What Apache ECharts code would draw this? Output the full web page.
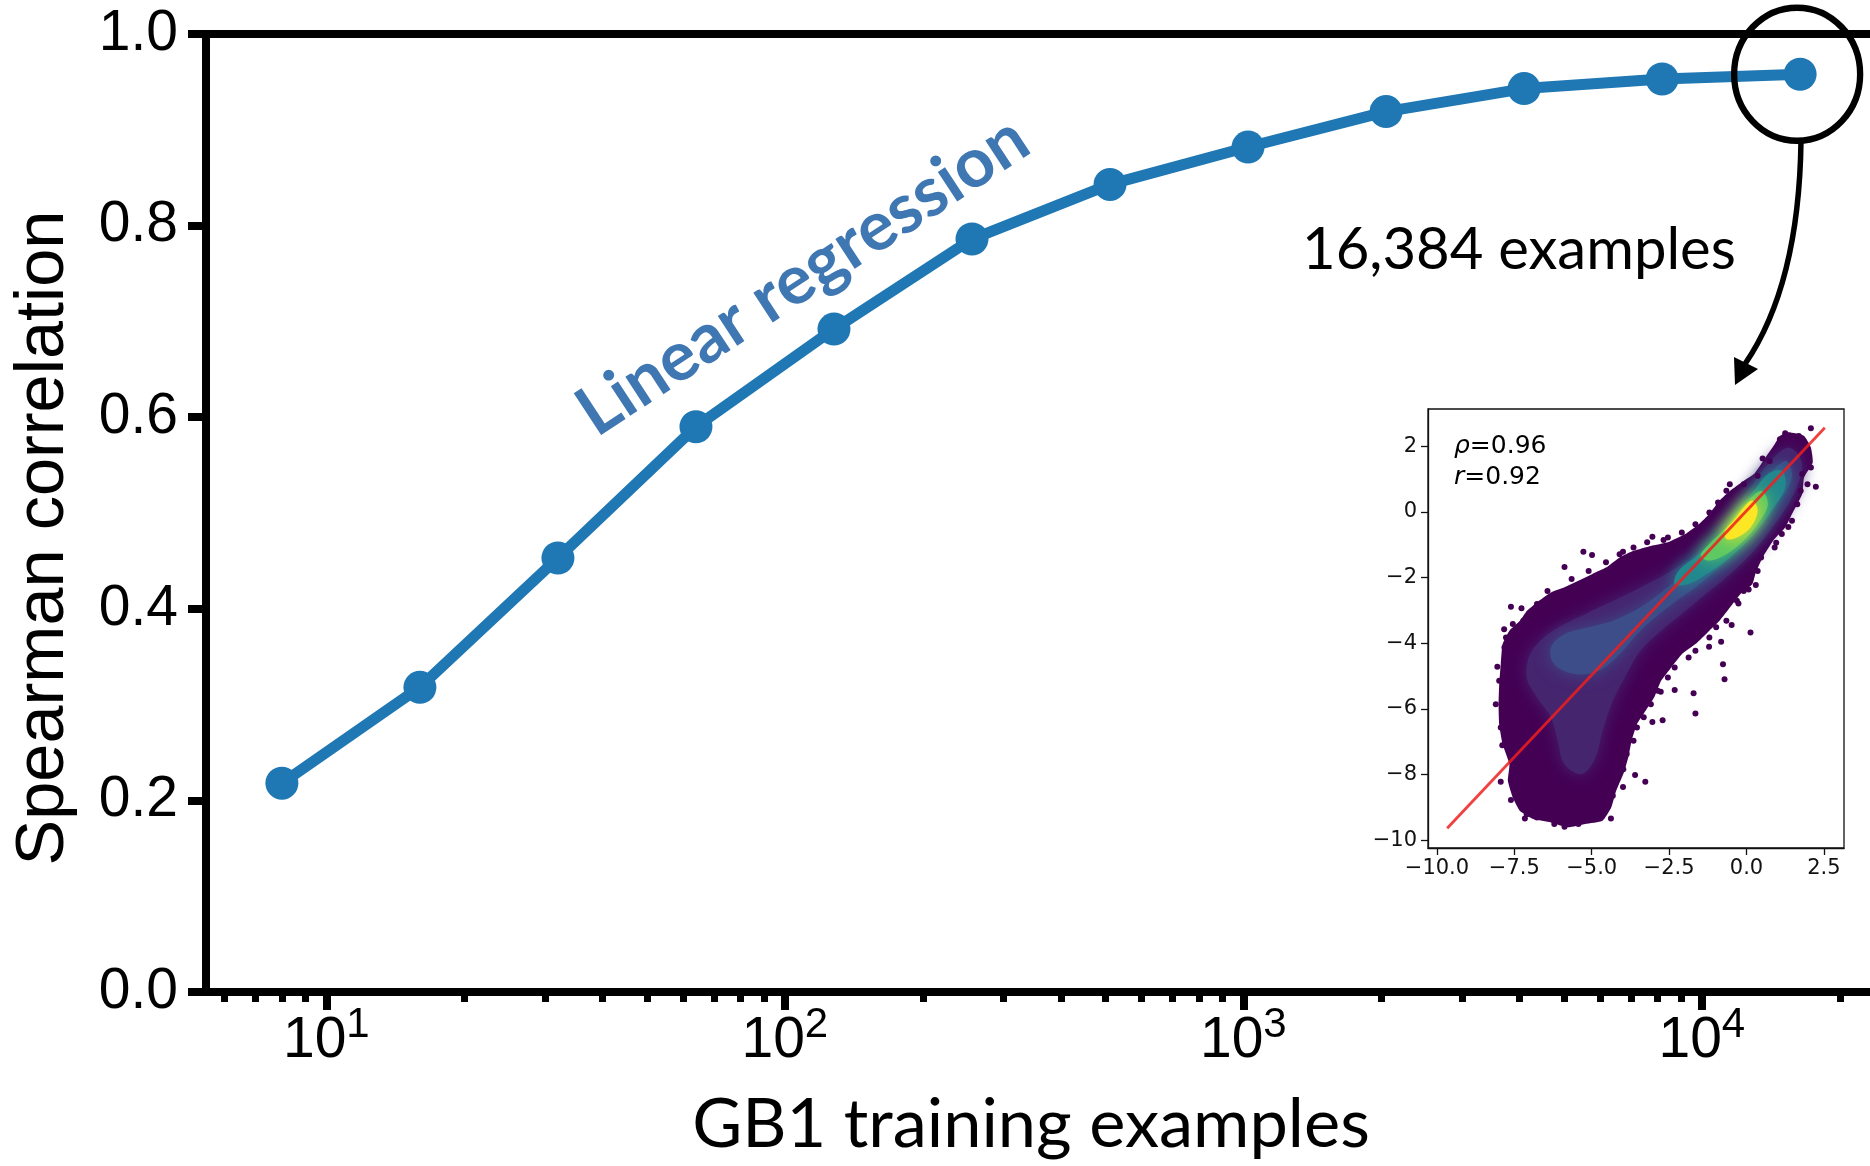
<!DOCTYPE html>
<html>
<head>
<meta charset="utf-8">
<script src="https://cdn.jsdelivr.net/npm/echarts@6/dist/echarts.min.js"></script>
<style>
html,body{margin:0;padding:0;background:#fff;}
#chart{width:1870px;height:1166px;}
</style>
</head>
<body>
<div id="chart"></div>
<script>
// ---------------- main chart data ----------------
const trainingExamples = [8, 16, 32, 64, 128, 256, 512, 1024, 2048, 4096, 8192, 16384];
const spearman = [0.218, 0.318, 0.453, 0.590, 0.692, 0.786, 0.843, 0.882, 0.919, 0.943, 0.953, 0.958];
const xMajorTicks = [10, 100, 1000, 10000];
const xMinorTicks = [6, 7, 8, 9, 20, 30, 40, 50, 60, 70, 80, 90, 200, 300, 400, 500, 600, 700, 800, 900,
                     2000, 3000, 4000, 5000, 6000, 7000, 8000, 9000, 20000];
const xLimits = [5.465, 23270];
const yTicks = [0, 0.2, 0.4, 0.6, 0.8, 1.0];
const highlightIndex = 11;

// ---------------- inset data (predicted vs measured) ----------------
const insetXTicks = [-10, -7.5, -5, -2.5, 0, 2.5];
const insetYTicks = [-10, -8, -6, -4, -2, 0, 2];
const insetXLimits = [-10.29, 3.15];
const insetYLimits = [-10.24, 3.13];
const insetStats = ['0.96', '0.92'];
const fitLine = [[-9.67, -9.64], [2.53, 2.56]];

const densityOuter = [[1.36,2.42],[1.86,2.31],[2.08,1.96],[2.14,1.50],[1.86,1.05],[1.80,0.54],[1.47,-0.07],[1.25,-0.48],[0.86,-0.88],[0.52,-1.39],[0.30,-1.85],[0.19,-2.20],[-0.20,-2.51],[-0.53,-2.91],[-0.87,-3.32],[-1.20,-3.62],[-1.65,-4.03],[-2.09,-4.34],[-2.43,-4.74],[-2.76,-5.15],[-2.98,-5.65],[-3.26,-6.06],[-3.54,-6.47],[-3.71,-6.97],[-3.82,-7.48],[-3.98,-7.99],[-4.21,-8.50],[-4.37,-9.01],[-4.65,-9.41],[-5.21,-9.51],[-5.77,-9.61],[-6.32,-9.46],[-6.88,-9.36],[-7.32,-9.11],[-7.55,-8.70],[-7.71,-8.19],[-7.66,-7.69],[-7.88,-7.08],[-7.99,-6.47],[-8.01,-5.86],[-7.99,-5.25],[-7.94,-4.64],[-7.88,-4.03],[-7.66,-3.62],[-7.32,-3.32],[-7.10,-3.02],[-6.77,-2.76],[-6.32,-2.46],[-5.88,-2.30],[-5.43,-2.10],[-4.99,-1.90],[-4.54,-1.70],[-4.10,-1.39],[-3.65,-1.19],[-3.09,-1.04],[-2.54,-0.93],[-1.98,-0.68],[-1.54,-0.38],[-1.20,-0.07],[-0.87,0.34],[-0.53,0.64],[-0.09,0.94],[0.24,1.15],[0.47,1.45],[0.69,1.76],[0.91,2.06],[1.08,2.31]];
const densityLevel2 = [[1.36,1.96],[1.80,1.45],[1.47,0.44],[0.91,-0.38],[0.24,-1.19],[-0.42,-1.80],[-1.20,-2.41],[-1.98,-3.02],[-2.76,-3.62],[-3.43,-4.23],[-3.87,-4.94],[-4.32,-5.76],[-4.65,-6.67],[-4.88,-7.48],[-5.32,-7.99],[-5.88,-7.69],[-6.10,-6.97],[-6.32,-6.26],[-6.77,-5.65],[-7.10,-5.05],[-6.99,-4.34],[-6.54,-3.83],[-5.88,-3.42],[-5.21,-3.12],[-4.54,-2.81],[-3.87,-2.51],[-3.21,-2.20],[-2.43,-1.80],[-1.65,-1.29],[-0.98,-0.68],[-0.42,0.03],[0.13,0.74],[0.69,1.45]];
const densityLevel3 = [[1.25,1.55],[1.47,1.05],[0.91,0.13],[0.13,-0.78],[-0.76,-1.59],[-1.65,-2.30],[-2.54,-2.91],[-3.43,-3.62],[-4.10,-4.34],[-4.76,-4.84],[-5.54,-4.94],[-6.21,-4.64],[-6.32,-4.13],[-5.88,-3.73],[-5.10,-3.52],[-4.32,-3.32],[-3.43,-2.91],[-2.54,-2.30],[-1.65,-1.59],[-0.87,-0.78],[-0.20,0.03],[0.47,0.84]];
const densityLevel4 = [[1.14,1.25],[1.25,0.74],[0.80,0.03],[0.24,-0.68],[-0.42,-1.29],[-1.20,-1.85],[-1.87,-2.20],[-2.32,-2.20],[-2.20,-1.80],[-1.54,-1.29],[-0.87,-0.68],[-0.31,0.03],[0.24,0.64],[0.69,1.15]];
const densityLevel5 = [[0.47,0.64],[0.69,0.23],[0.36,-0.38],[-0.09,-0.88],[-0.65,-1.29],[-1.20,-1.49],[-1.48,-1.34],[-1.20,-0.98],[-0.65,-0.48],[-0.14,0.13]];
const densityLevel6 = [[0.19,0.34],[0.36,0.03],[0.13,-0.48],[-0.31,-0.78],[-0.65,-0.83],[-0.70,-0.58],[-0.42,-0.27],[-0.09,0.13]];
const densityLevels = [densityOuter, densityLevel2, densityLevel3, densityLevel4, densityLevel5, densityLevel6];
const densityColors = ['#440154', '#46256f', '#3d4d89', '#23888e', '#5ec962', '#fde725'];

const outliers = [[2.08,2.54],[1.08,2.21],[2.24,0.76],[1.97,0.84],[0.52,1.62],[-0.54,0.84],[1.35,-0.46],[0.96,-0.94],[0.30,-2.23],[0.07,-2.37],[-0.26,-2.79],[-0.48,-3.45],[0.13,-3.68],[-0.82,-3.96],[-0.76,-4.64],[-0.71,-5.10],[-1.21,-4.11],[-1.65,-6.14],[-1.71,-5.53],[-2.32,-5.43],[-2.77,-5.48],[-2.71,-6.35],[-3.04,-6.40],[-3.27,-8.22],[-3.60,-8.02],[-3.99,-8.38],[-4.38,-9.34],[-5.88,-1.68],[-5.27,-1.22],[-4.99,-1.32],[-3.99,-1.22],[-3.04,-0.76],[-2.68,-0.86],[-7.61,-2.89],[-7.27,-2.94],[-7.83,-3.58],[-8.05,-4.72],[-7.94,-8.22],[-7.89,-7.11],[-7.61,-8.78],[-7.16,-9.34],[-5.88,-9.59],[-5.66,-9.49],
  [-6.43,-2.41],[-6.77,-2.81],[-7.21,-3.32],[-7.55,-3.42],[-7.77,-3.83],[-7.82,-4.13],[-7.99,-5.15],[-8.10,-5.86],[-7.88,-5.96],[-7.94,-6.57],[-7.66,-7.28],[-7.55,-7.89],[-7.38,-8.29],[-7.27,-8.90],[-7.10,-9.21],[-6.77,-9.31],[-6.21,-9.51],[-5.43,-9.51],[-4.99,-9.36],[-4.54,-8.90],[-4.32,-8.65],[-4.21,-8.19],[-3.98,-7.84],[-3.87,-7.38],[-3.65,-6.97],[-3.54,-6.57],[-3.32,-6.26],[-3.09,-5.86],[-2.87,-5.45],[-2.54,-5.05],[-2.32,-4.74],[-1.87,-4.44],[-1.65,-4.23],[-1.20,-3.83],[-0.98,-3.52],[-0.65,-3.32],[-0.31,-2.71],[-0.09,-2.41],[0.02,-2.00],[0.36,-1.80],[0.47,-1.39],[0.91,-1.09],[1.14,-0.68],[1.47,-0.27],[1.64,0.23],[1.75,0.64],[1.80,1.15],[2.08,1.35],[1.91,2.06],[1.69,2.31],[1.25,2.39],[0.75,1.55],[0.36,1.10],[-0.09,0.84],[-0.65,0.64],[-0.92,0.28],[-1.20,-0.02],[-1.65,-0.38],[-2.09,-0.63],[-2.54,-0.78],[-3.21,-0.93],[-3.65,-1.09],[-4.10,-1.29],[-4.54,-1.54],[-5.10,-1.80],[-5.65,-2.05]];

// ---------------- styling helpers ----------------
const BLUE = '#1f77b4';
const ARIAL = '"Liberation Sans", Arial, sans-serif';
const CALIBRI = 'Lato, "Open Sans", sans-serif';
const DEJAVU = '"DejaVu Sans", sans-serif';
const minus = v => String(v).replace('-', '\u2212');

const chart = echarts.init(document.getElementById('chart'), null, {renderer: 'canvas'});

const option = {
  animation: false,
  backgroundColor: '#fff',
  grid: [
    {left: 206, top: 34, width: 1664, height: 958, show: false},
    {left: 1428, top: 409, width: 416, height: 439, show: true, borderColor: '#111', borderWidth: 1.3, backgroundColor: '#fff'}
  ],
  xAxis: [
    {
      type: 'log', logBase: 10, gridIndex: 0, min: xLimits[0], max: xLimits[1],
      name: 'GB1 training examples', nameLocation: 'middle', nameGap: 98,
      nameTextStyle: {fontFamily: CALIBRI, fontSize: 68.5, color: '#000', padding: [0, 14, 0, 0]},
      axisLine: {show: true, onZero: false, lineStyle: {color: '#000', width: 8}},
      axisTick: {show: true, customValues: xMajorTicks, length: 18, lineStyle: {color: '#000', width: 8}},
      axisLabel: {
        show: true, customValues: xMajorTicks, margin: 12, color: '#000',
        formatter: v => '{b|10}{s|' + Math.round(Math.log10(v)) + '}',
        rich: {
          b: {fontFamily: ARIAL, fontSize: 57, lineHeight: 74, color: '#000'},
          s: {fontFamily: ARIAL, fontSize: 42, lineHeight: 42, verticalAlign: 'top', color: '#000'}
        }
      },
      splitLine: {show: false}, minorTick: {show: false}
    },
    {
      type: 'log', logBase: 10, gridIndex: 0, min: xLimits[0], max: xLimits[1], position: 'bottom',
      axisLine: {show: false, onZero: false},
      axisTick: {show: true, customValues: xMinorTicks, length: 10, lineStyle: {color: '#000', width: 7}},
      axisLabel: {show: false}, splitLine: {show: false}
    },
    {
      type: 'log', logBase: 10, gridIndex: 0, min: xLimits[0], max: xLimits[1], position: 'top',
      axisLine: {show: true, onZero: false, lineStyle: {color: '#000', width: 8}},
      axisTick: {show: false}, axisLabel: {show: false}, splitLine: {show: false}
    },
    {
      type: 'value', gridIndex: 1, min: insetXLimits[0], max: insetXLimits[1],
      axisLine: {show: true, onZero: false, lineStyle: {color: '#111', width: 1.3}},
      axisTick: {show: true, customValues: insetXTicks, length: 7, lineStyle: {color: '#111', width: 1.3}},
      axisLabel: {show: true, customValues: insetXTicks, margin: 10, fontFamily: DEJAVU, fontSize: 21, color: '#111',
                  formatter: v => minus(v.toFixed(1))},
      splitLine: {show: false}
    }
  ],
  yAxis: [
    {
      type: 'value', gridIndex: 0, min: 0, max: 1, interval: 0.2,
      name: 'Spearman correlation', nameLocation: 'middle', nameGap: 127, nameRotate: 90,
      nameTextStyle: {fontFamily: ARIAL, fontSize: 68.5, color: '#000', padding: [0, 50, 0, 0]},
      axisLine: {show: true, onZero: false, lineStyle: {color: '#000', width: 8}},
      axisTick: {show: true, length: 18, lineStyle: {color: '#000', width: 8}},
      axisLabel: {show: true, margin: 28, fontFamily: ARIAL, fontSize: 57, color: '#000', formatter: v => v.toFixed(1)},
      splitLine: {show: false}
    },
    {
      type: 'value', gridIndex: 1, min: insetYLimits[0], max: insetYLimits[1],
      axisLine: {show: true, onZero: false, lineStyle: {color: '#111', width: 1.3}},
      axisTick: {show: true, customValues: insetYTicks, length: 7, lineStyle: {color: '#111', width: 1.3}},
      axisLabel: {show: true, customValues: insetYTicks, margin: 11, fontFamily: DEJAVU, fontSize: 21, color: '#111',
                  formatter: v => minus(String(v))},
      splitLine: {show: false}
    }
  ],
  series: [
    {
      name: 'Linear regression', type: 'line', xAxisIndex: 0, yAxisIndex: 0,
      data: trainingExamples.map((x, i) => [x, spearman[i]]),
      symbol: 'circle', symbolSize: 33, showSymbol: true,
      lineStyle: {color: BLUE, width: 11}, itemStyle: {color: BLUE}, z: 3, clip: false
    },
    {
      name: 'highlight', type: 'scatter', xAxisIndex: 0, yAxisIndex: 0,
      data: [[trainingExamples[highlightIndex], spearman[highlightIndex]]],
      symbol: 'circle', symbolSize: [126, 133], symbolOffset: [-3, 0],
      itemStyle: {color: 'rgba(0,0,0,0)', borderColor: '#000', borderWidth: 6.5, opacity: 1},
      clip: false, z: 4, silent: true
    },
    {
      name: 'density', type: 'custom', xAxisIndex: 3, yAxisIndex: 1, clip: true,
      data: densityLevels.map((poly, i) => [poly[0][0], poly[0][1], i]),
      encode: {x: 0, y: 1},
      renderItem: function (params, api) {
        const i = api.value(2);
        const pts = densityLevels[i].map(p => api.coord(p));
        const c = densityColors[i];
        return {
          type: 'polygon',
          shape: {points: pts, smooth: i === 0 ? 0.15 : 0.35},
          style: {fill: c, shadowBlur: i === 0 ? 0 : 16, shadowColor: c}
        };
      },
      z: 2, silent: true
    },
    {
      name: 'outliers', type: 'scatter', xAxisIndex: 3, yAxisIndex: 1,
      data: outliers, symbol: 'circle', symbolSize: 6,
      itemStyle: {color: '#440154', opacity: 1}, z: 2, silent: true
    },
    {
      name: 'fit', type: 'line', xAxisIndex: 3, yAxisIndex: 1,
      data: fitLine, symbol: 'none',
      lineStyle: {color: 'rgba(238,30,30,0.85)', width: 2.8}, z: 5, silent: true
    }
  ],
  graphic: [
    {
      type: 'text', x: 803, y: 276, rotation: 0.5805, z: 10,
      style: {text: 'Linear regression', fontFamily: CALIBRI, fontWeight: 'bold', fontSize: 69,
              fill: '#3f77b2', align: 'center', verticalAlign: 'middle'}
    },
    {
      type: 'text', x: 1302, y: 250, z: 10,
      style: {text: trainingExamples[highlightIndex].toLocaleString('en-US') + ' examples',
              fontFamily: CALIBRI, fontSize: 58, fill: '#000', align: 'left', verticalAlign: 'middle'}
    },
    {
      type: 'bezierCurve', z: 10,
      shape: {x1: 1801, y1: 141, cpx1: 1799, cpy1: 285, x2: 1745, y2: 364},
      style: {stroke: '#000', lineWidth: 5.5, fill: null}
    },
    {
      type: 'polygon', z: 10,
      shape: {points: [[1734, 357], [1758, 369], [1735, 385]]},
      style: {fill: '#000'}
    },
    {
      type: 'text', x: 1454, y: 446, z: 10,
      style: {text: '{i|\u03c1}=' + insetStats[0], fontFamily: DEJAVU, fontSize: 25, fill: '#000',
              align: 'left', verticalAlign: 'middle',
              rich: {i: {fontFamily: DEJAVU, fontSize: 25, fontStyle: 'italic', fill: '#000'}}}
    },
    {
      type: 'text', x: 1454, y: 477, z: 10,
      style: {text: '{i|r}=' + insetStats[1], fontFamily: DEJAVU, fontSize: 25, fill: '#000',
              align: 'left', verticalAlign: 'middle',
              rich: {i: {fontFamily: DEJAVU, fontSize: 25, fontStyle: 'italic', fill: '#000'}}}
    }
  ]
};
chart.setOption(option);
</script>
</body>
</html>
